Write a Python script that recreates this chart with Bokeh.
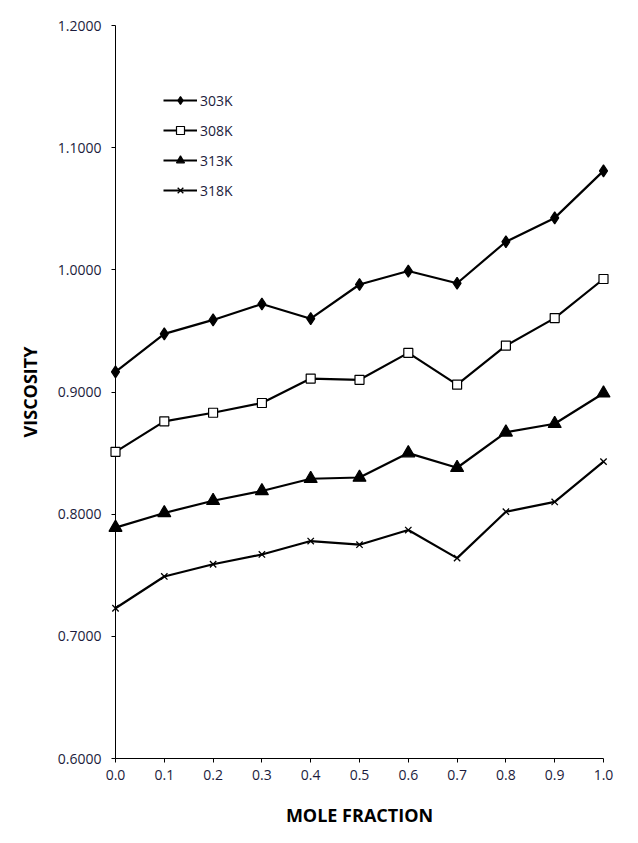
from bokeh.plotting import figure
from bokeh.models import FixedTicker, NumeralTickFormatter, Range1d, Legend, LegendItem
from bokeh.embed import file_html
from bokeh.resources import INLINE

mole_fraction = [0.0, 0.1, 0.2, 0.3, 0.4, 0.5, 0.6, 0.7, 0.8, 0.9, 1.0]
visc_303K = [0.9165, 0.9476, 0.9590, 0.9720, 0.9600, 0.9880, 0.9990, 0.9890, 1.0230, 1.0425, 1.0810]
visc_308K = [0.8510, 0.8760, 0.8830, 0.8910, 0.9110, 0.9100, 0.9320, 0.9060, 0.9380, 0.9605, 0.9925]
visc_313K = [0.7890, 0.8010, 0.8110, 0.8190, 0.8290, 0.8300, 0.8500, 0.8380, 0.8670, 0.8740, 0.8990]
visc_318K = [0.7230, 0.7490, 0.7590, 0.7670, 0.7780, 0.7750, 0.7870, 0.7640, 0.8020, 0.8100, 0.8430]
series_labels = ["303K", "308K", "313K", "318K"]
x_ticks = [0.0, 0.1, 0.2, 0.3, 0.4, 0.5, 0.6, 0.7, 0.8, 0.9, 1.0]
y_ticks = [0.6, 0.7, 0.8, 0.9, 1.0, 1.1, 1.2]

TEXT = "#1c1c3c"
FONT = "Open Sans"

p = figure(output_backend="svg", toolbar_location=None,
           frame_width=488, frame_height=733,
           min_border_left=115, min_border_right=25,
           min_border_top=25, min_border_bottom=77,
           x_range=Range1d(0, 1), y_range=Range1d(0.6, 1.2))
p.xgrid.visible = False
p.ygrid.visible = False
p.outline_line_color = None
p.background_fill_color = "white"
p.border_fill_color = "white"

for ax in (p.xaxis[0], p.yaxis[0]):
    ax.axis_line_color = "black"
    ax.axis_line_width = 1
    ax.major_tick_line_color = "black"
    ax.major_tick_out = 4
    ax.major_tick_in = 0
    ax.minor_tick_line_color = None
    ax.major_label_text_font = FONT
    ax.major_label_text_font_size = "14px"
    ax.major_label_text_color = TEXT
    ax.axis_label_text_font = FONT
    ax.axis_label_text_font_style = "bold"
    ax.axis_label_text_font_size = "18px"
    ax.axis_label_text_color = "black"

p.xaxis.ticker = FixedTicker(ticks=x_ticks)
p.yaxis.ticker = FixedTicker(ticks=y_ticks)
p.xaxis.formatter = NumeralTickFormatter(format="0.0")
p.yaxis.formatter = NumeralTickFormatter(format="0.0000")
p.xaxis.axis_label = "MOLE FRACTION"
p.yaxis.axis_label = "VISCOSITY"
p.xaxis.major_label_standoff = 7
p.yaxis.major_label_standoff = 10
p.xaxis.axis_label_standoff = 20
p.yaxis.axis_label_standoff = 13

series = [visc_303K, visc_308K, visc_313K, visc_318K]
markers = ["diamond", "square", "triangle", "x"]
sizes = [12, 9, 13, 9]
fills = ["black", "white", "black", None]

items = []
for vals, lab, mk, sz, fc in zip(series, series_labels, markers, sizes, fills):
    r1 = p.line(mole_fraction, vals, line_color="black", line_width=2.2)
    r1.level = "overlay"
    r2 = p.scatter(mole_fraction, vals, marker=mk, size=sz, line_color="black",
                   line_width=1.2 if mk != "x" else 1.3,
                   fill_color=fc)
    r2.level = "overlay"
    items.append(LegendItem(label=lab, renderers=[r1, r2]))

legend = Legend(items=items, location=(48, 558))
legend.border_line_color = None
legend.background_fill_alpha = 0
legend.padding = 0
legend.margin = 0
legend.spacing = 10
legend.glyph_width = 34
legend.glyph_height = 20
legend.label_height = 20
legend.label_standoff = 3
legend.label_text_font = FONT
legend.label_text_font_size = "14px"
legend.label_text_color = TEXT
p.add_layout(legend)

open("out.html", "w").write(file_html(p, INLINE))
